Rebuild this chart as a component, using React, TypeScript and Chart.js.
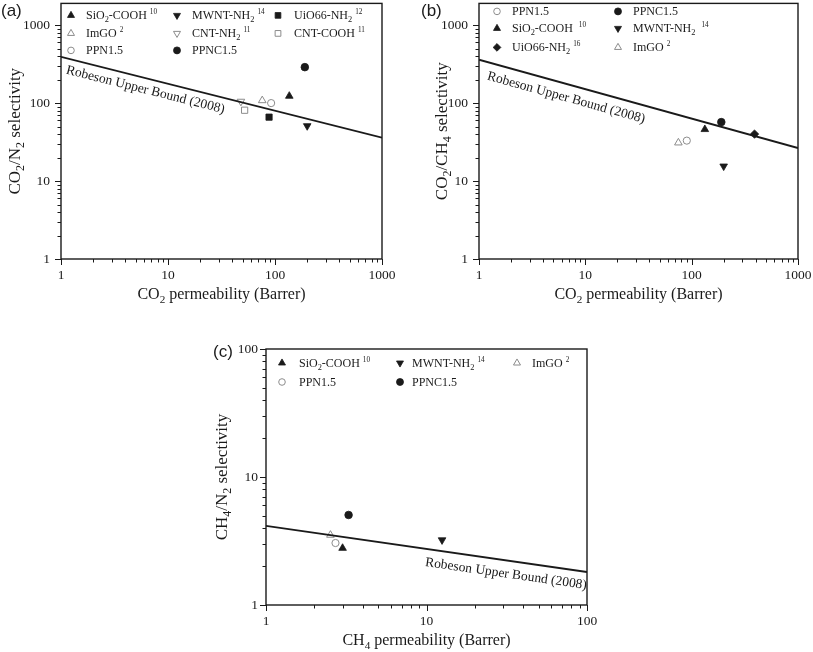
import React, { useEffect, useRef } from 'react';
import { Chart, registerables } from 'chart.js';
import { drawPoint } from 'chart.js/helpers';

Chart.register(...registerables);

const SERIF = '"Liberation Serif", "Times New Roman", Times, serif';
const SANS = '"Liberation Sans", Arial, sans-serif';
const INK = '#1a1a1a';
const GREY = '#8c8c8c';

type Pt = { x: number; y: number };

// ---------- Panel (a): CO2/N2 ----------
const A_X_LABELS = [1, 10, 100, 1000];
const A_Y_LABELS = [1, 10, 100, 1000];
const A_BOUND: Pt[] = [{ x: 1, y: 392 }, { x: 1000, y: 36 }];
const A_SIO2_COOH: Pt[] = [{ x: 136, y: 123 }];
const A_MWNT_NH2: Pt[] = [{ x: 200, y: 51 }];
const A_UIO66_NH2: Pt[] = [{ x: 88, y: 66 }];
const A_IMGO: Pt[] = [{ x: 76, y: 108 }];
const A_CNT_NH2: Pt[] = [{ x: 48, y: 105 }];
const A_CNT_COOH: Pt[] = [{ x: 52, y: 81 }];
const A_PPN15: Pt[] = [{ x: 92, y: 100 }];
const A_PPNC15: Pt[] = [{ x: 190, y: 289 }];

// ---------- Panel (b): CO2/CH4 ----------
const B_X_LABELS = [1, 10, 100, 1000];
const B_Y_LABELS = [1, 10, 100, 1000];
const B_BOUND: Pt[] = [{ x: 1, y: 360 }, { x: 1000, y: 26.5 }];
const B_PPN15: Pt[] = [{ x: 90, y: 33 }];
const B_PPNC15: Pt[] = [{ x: 190, y: 57 }];
const B_SIO2_COOH: Pt[] = [{ x: 133, y: 46 }];
const B_MWNT_NH2: Pt[] = [{ x: 200, y: 15.5 }];
const B_UIO66_NH2: Pt[] = [{ x: 390, y: 40 }];
const B_IMGO: Pt[] = [{ x: 75, y: 31 }];

// ---------- Panel (c): CH4/N2 ----------
const C_X_LABELS = [1, 10, 100];
const C_Y_LABELS = [1, 10, 100];
const C_BOUND: Pt[] = [{ x: 1, y: 4.15 }, { x: 100, y: 1.81 }];
const C_SIO2_COOH: Pt[] = [{ x: 3.0, y: 2.78 }];
const C_MWNT_NH2: Pt[] = [{ x: 12.5, y: 3.22 }];
const C_IMGO: Pt[] = [{ x: 2.52, y: 3.52 }];
const C_PPN15: Pt[] = [{ x: 2.71, y: 3.05 }];
const C_PPNC15: Pt[] = [{ x: 3.27, y: 5.05 }];

const BOUND_TEXT = 'Robeson Upper Bound (2008)';

// ---------- rich text (sub/superscript) ----------
type Seg = { t: string; k: 'n' | 'sub' | 'sup' };
function parseRich(s: string): Seg[] {
  const out: Seg[] = [];
  let buf = '';
  let i = 0;
  while (i < s.length) {
    const c = s[i];
    if ((c === '_' || c === '^') && i + 1 < s.length) {
      if (buf) { out.push({ t: buf, k: 'n' }); buf = ''; }
      let content = '';
      if (s[i + 1] === '{') {
        const j = s.indexOf('}', i + 2);
        content = s.slice(i + 2, j);
        i = j + 1;
      } else {
        content = s[i + 1];
        i += 2;
      }
      out.push({ t: content, k: c === '_' ? 'sub' : 'sup' });
    } else {
      buf += c;
      i++;
    }
  }
  if (buf) out.push({ t: buf, k: 'n' });
  return out;
}
function segFont(k: string, size: number) {
  const s = k === 'n' ? size : k === 'sub' ? size * 0.7 : size * 0.6;
  return `${s}px ${SERIF}`;
}
function drawRich(ctx: CanvasRenderingContext2D, s: string, x: number, y: number, size: number, align: 'left' | 'center') {
  const segs = parseRich(s);
  ctx.textBaseline = 'alphabetic';
  ctx.textAlign = 'left';
  let w = 0;
  const ws = segs.map((g) => { ctx.font = segFont(g.k, size); const m = ctx.measureText(g.t).width; w += m; return m; });
  let cx = align === 'center' ? x - w / 2 : x;
  segs.forEach((g, i) => {
    ctx.font = segFont(g.k, size);
    const dy = g.k === 'sub' ? size * 0.22 : g.k === 'sup' ? -size * 0.42 : 0;
    ctx.fillText(g.t, cx, y + dy);
    cx += ws[i];
  });
}

// ---------- markers ----------
type Mark = { style: string; rot: number; r: number; filled: boolean };
const M_TRI_UP: Mark = { style: 'triangle', rot: 0, r: 4.4, filled: true };
const M_TRI_DOWN: Mark = { style: 'triangle', rot: 180, r: 4.4, filled: true };
const M_SQUARE: Mark = { style: 'rect', rot: 0, r: 4.4, filled: true };
const M_DIAMOND: Mark = { style: 'rectRot', rot: 0, r: 4.2, filled: true };
const M_DOT: Mark = { style: 'circle', rot: 0, r: 3.8, filled: true };
const M_O_TRI_UP: Mark = { style: 'triangle', rot: 0, r: 4.4, filled: false };
const M_O_TRI_DOWN: Mark = { style: 'triangle', rot: 180, r: 4.4, filled: false };
const M_O_SQUARE: Mark = { style: 'rect', rot: 0, r: 4.4, filled: false };
const M_O_CIRCLE: Mark = { style: 'circle', rot: 0, r: 3.6, filled: false };

function series(data: Pt[], legendText: string, m: Mark) {
  return {
    data,
    legendText,
    showLine: false,
    pointStyle: m.style,
    pointRotation: m.rot,
    pointRadius: m.r,
    pointHoverRadius: m.r,
    pointBackgroundColor: m.filled ? INK : 'rgba(0,0,0,0)',
    pointBorderColor: m.filled ? INK : GREY,
    pointBorderWidth: m.filled ? 0.8 : 1,
  };
}
function boundSeries(data: Pt[]) {
  return { data, isBound: true, showLine: true, borderColor: INK, borderWidth: 1.8, pointRadius: 0, fill: false };
}

// ---------- plugins ----------
const framePlugin = {
  id: 'frame',
  afterDraw(chart: any) {
    const { ctx, chartArea: a, scales } = chart;
    ctx.save();
    ctx.strokeStyle = INK;
    ctx.lineWidth = 1;
    ctx.beginPath();
    for (const t of scales.x.ticks) {
      const px = Math.round(scales.x.getPixelForValue(t.value)) + 0.5;
      const len = t.major ? 6 : 3.5;
      ctx.moveTo(px, a.bottom);
      ctx.lineTo(px, a.bottom + len);
    }
    for (const t of scales.y.ticks) {
      const py = Math.round(scales.y.getPixelForValue(t.value)) + 0.5;
      const len = t.major ? 6 : 3.5;
      ctx.moveTo(a.left, py);
      ctx.lineTo(a.left - len, py);
    }
    ctx.stroke();
    ctx.lineWidth = 1.4;
    ctx.strokeRect(a.left, a.top, a.right - a.left, a.bottom - a.top);
    ctx.restore();
  },
};

const titlesPlugin = {
  id: 'axisTitles',
  afterDraw(chart: any, _a: any, o: any) {
    const { ctx, chartArea: a } = chart;
    ctx.save();
    ctx.fillStyle = INK;
    drawRich(ctx, o.x, (a.left + a.right) / 2, a.bottom + o.xGap, o.xSize, 'center');
    ctx.translate(a.left - o.yGap, (a.top + a.bottom) / 2);
    ctx.rotate(-Math.PI / 2);
    drawRich(ctx, o.y, 0, 0, o.ySize, 'center');
    ctx.restore();
  },
};

const boundLabelPlugin = {
  id: 'boundLabel',
  afterDatasetsDraw(chart: any, _a: any, o: any) {
    const ds = chart.data.datasets.find((d: any) => d.isBound);
    if (!ds) return;
    const xs = chart.scales.x, ys = chart.scales.y;
    const p0 = { x: xs.getPixelForValue(ds.data[0].x), y: ys.getPixelForValue(ds.data[0].y) };
    const last = ds.data[ds.data.length - 1];
    const p1 = { x: xs.getPixelForValue(last.x), y: ys.getPixelForValue(last.y) };
    const ang = Math.atan2(p1.y - p0.y, p1.x - p0.x);
    const sx = xs.getPixelForValue(o.startX);
    const sy = p0.y + (sx - p0.x) * Math.tan(ang);
    const { ctx } = chart;
    ctx.save();
    ctx.translate(sx, sy);
    ctx.rotate(ang);
    ctx.fillStyle = INK;
    drawRich(ctx, o.text, 0, o.offset, o.size, 'left');
    ctx.restore();
  },
};

const legendPlugin = {
  id: 'panelLegend',
  afterDatasetsDraw(chart: any, _a: any, o: any) {
    const { ctx, chartArea: a } = chart;
    const items = chart.data.datasets.filter((d: any) => d.legendText);
    const cols = o.markerX.length;
    items.forEach((d: any, i: number) => {
      const col = i % cols;
      const row = Math.floor(i / cols);
      const mx = a.left + o.markerX[col];
      const my = a.top + o.rowY[row];
      ctx.save();
      ctx.fillStyle = d.pointBackgroundColor;
      ctx.strokeStyle = d.pointBorderColor;
      ctx.lineWidth = d.pointBorderWidth;
      drawPoint(ctx, { pointStyle: d.pointStyle, rotation: d.pointRotation, radius: d.pointRadius * 0.92, borderWidth: d.pointBorderWidth } as any, mx, my);
      ctx.restore();
      ctx.save();
      ctx.fillStyle = INK;
      drawRich(ctx, d.legendText, a.left + o.textX[col], my + 4, o.size, 'left');
      ctx.restore();
    });
  },
};

// ---------- axes ----------
function logTicks(min: number, max: number) {
  const out: number[] = [];
  for (let e = Math.floor(Math.log10(min)); Math.pow(10, e) <= max; e++) {
    for (let m = 1; m <= 9; m++) {
      const v = m * Math.pow(10, e);
      if (v >= min && v <= max) out.push(v);
    }
  }
  return out;
}
function logAxis(min: number, max: number, labels: number[], size: number, horizontal: boolean, pad: number) {
  return {
    type: 'logarithmic',
    min,
    max,
    afterBuildTicks: (s: any) => {
      s.ticks = logTicks(min, max).map((v) => ({ value: v, major: labels.includes(v) }));
    },
    afterFit: (s: any) => {
      if (horizontal) s.height = size;
      else s.width = size;
      s.paddingTop = 0;
      s.paddingBottom = 0;
      s.paddingLeft = 0;
      s.paddingRight = 0;
    },
    ticks: {
      autoSkip: false,
      maxRotation: 0,
      minRotation: 0,
      padding: pad,
      color: INK,
      font: { family: SERIF, size: 13.5 },
      callback: (v: number) => (labels.includes(v) ? String(v) : ''),
    },
    grid: { display: true, drawOnChartArea: false, drawTicks: true, tickLength: 6, tickColor: 'rgba(0,0,0,0)' },
    border: { display: false },
  };
}

type PanelSpec = {
  datasets: any[];
  x: [number, number, number[]];
  y: [number, number, number[]];
  yAxisW: number;
  xAxisH: number;
  yPad: number;
  padding: { left: number; right: number; top: number; bottom: number };
  titles: any;
  legend: any;
  bound: any;
};

function makeConfig(p: PanelSpec): any {
  return {
    type: 'scatter',
    data: { datasets: p.datasets },
    plugins: [framePlugin, titlesPlugin, boundLabelPlugin, legendPlugin],
    options: {
      animation: false,
      responsive: false,
      events: [],
      layout: { padding: p.padding },
      scales: {
        x: logAxis(p.x[0], p.x[1], p.x[2], p.xAxisH, true, 2),
        y: logAxis(p.y[0], p.y[1], p.y[2], p.yAxisW, false, p.yPad),
      },
      plugins: {
        legend: { display: false },
        tooltip: { enabled: false },
        axisTitles: p.titles,
        boundLabel: p.bound,
        panelLegend: p.legend,
      },
    },
  };
}

const PANEL_A: PanelSpec = {
  datasets: [
    boundSeries(A_BOUND),
    series(A_SIO2_COOH, 'SiO_2-COOH ^{10}', M_TRI_UP),
    series(A_MWNT_NH2, 'MWNT-NH_2 ^{14}', M_TRI_DOWN),
    series(A_UIO66_NH2, 'UiO66-NH_2 ^{12}', M_SQUARE),
    series(A_IMGO, 'ImGO ^2', M_O_TRI_UP),
    series(A_CNT_NH2, 'CNT-NH_2 ^{11}', M_O_TRI_DOWN),
    series(A_CNT_COOH, 'CNT-COOH ^{11}', M_O_SQUARE),
    series(A_PPN15, 'PPN1.5', M_O_CIRCLE),
    series(A_PPNC15, 'PPNC1.5', M_DOT),
  ],
  x: [1, 1000, A_X_LABELS],
  y: [1, 1900, A_Y_LABELS],
  yAxisW: 61,
  xAxisH: 61,
  yPad: 5,
  padding: { left: 0, right: 18, top: 0, bottom: 0 },
  titles: { x: 'CO_2 permeability (Barrer)', y: 'CO_2/N_2 selectivity', xGap: 40, yGap: 41, xSize: 16, ySize: 17 },
  legend: { markerX: [10, 116, 217], textX: [25, 131, 233], rowY: [12, 30, 47], size: 12 },
  bound: { text: BOUND_TEXT, startX: 1.19, offset: 15, size: 13.5 },
};

const PANEL_B: PanelSpec = {
  datasets: [
    boundSeries(B_BOUND),
    series(B_PPN15, 'PPN1.5', M_O_CIRCLE),
    series(B_PPNC15, 'PPNC1.5', M_DOT),
    series(B_SIO2_COOH, 'SiO_2-COOH  ^{10}', M_TRI_UP),
    series(B_MWNT_NH2, 'MWNT-NH_2  ^{14}', M_TRI_DOWN),
    series(B_UIO66_NH2, 'UiO66-NH_2 ^{16}', M_DIAMOND),
    series(B_IMGO, 'ImGO ^2', M_O_TRI_UP),
  ],
  x: [1, 1000, B_X_LABELS],
  y: [1, 1900, B_Y_LABELS],
  yAxisW: 79,
  xAxisH: 61,
  yPad: 5,
  padding: { left: 0, right: 15, top: 0, bottom: 0 },
  titles: { x: 'CO_2 permeability (Barrer)', y: 'CO_2/CH_4 selectivity', xGap: 40, yGap: 32, xSize: 16, ySize: 17 },
  legend: { markerX: [18, 139], textX: [33, 154], rowY: [8, 25, 44], size: 12 },
  bound: { text: BOUND_TEXT, startX: 1.3, offset: 17, size: 13.5 },
};

const PANEL_C: PanelSpec = {
  datasets: [
    boundSeries(C_BOUND),
    series(C_SIO2_COOH, 'SiO_2-COOH ^{10}', M_TRI_UP),
    series(C_MWNT_NH2, 'MWNT-NH_2 ^{14}', M_TRI_DOWN),
    series(C_IMGO, 'ImGO ^2', M_O_TRI_UP),
    series(C_PPN15, 'PPN1.5', M_O_CIRCLE),
    series(C_PPNC15, 'PPNC1.5', M_DOT),
  ],
  x: [1, 100, C_X_LABELS],
  y: [1, 100, C_Y_LABELS],
  yAxisW: 66,
  xAxisH: 47,
  yPad: 2,
  padding: { left: 0, right: 33, top: 19, bottom: 0 },
  titles: { x: 'CH_4 permeability (Barrer)', y: 'CH_4/N_2 selectivity', xGap: 40, yGap: 39, xSize: 16, ySize: 17 },
  legend: { markerX: [16, 134, 251], textX: [33, 146, 266], rowY: [14, 33], size: 12 },
  bound: { text: BOUND_TEXT, startX: 10.1, offset: 17, size: 13.5 },
};

function Panel({ spec, left, top, width, height }: { spec: PanelSpec; left: number; top: number; width: number; height: number }) {
  const ref = useRef<HTMLCanvasElement>(null);
  useEffect(() => {
    const chart = new Chart(ref.current as HTMLCanvasElement, makeConfig(spec));
    return () => chart.destroy();
  }, [spec]);
  return <canvas ref={ref} width={width} height={height} style={{ position: 'absolute', left, top, width, height }} />;
}

const tagStyle = (left: number, top: number): React.CSSProperties => ({
  position: 'absolute', left, top, fontFamily: SANS, fontSize: 17, lineHeight: '17px', color: INK,
});

export default function App() {
  return (
    <div style={{ position: 'absolute', left: 0, top: 0, width: 813, height: 652, background: '#fff', overflow: 'hidden' }}>
      <Panel spec={PANEL_A} left={0} top={-2} width={400} height={322} />
      <Panel spec={PANEL_B} left={400} top={-2} width={413} height={322} />
      <Panel spec={PANEL_C} left={200} top={330} width={420} height={322} />
      <div style={tagStyle(1, 2)}>(a)</div>
      <div style={tagStyle(421, 2)}>(b)</div>
      <div style={tagStyle(213, 343)}>(c)</div>
    </div>
  );
}
